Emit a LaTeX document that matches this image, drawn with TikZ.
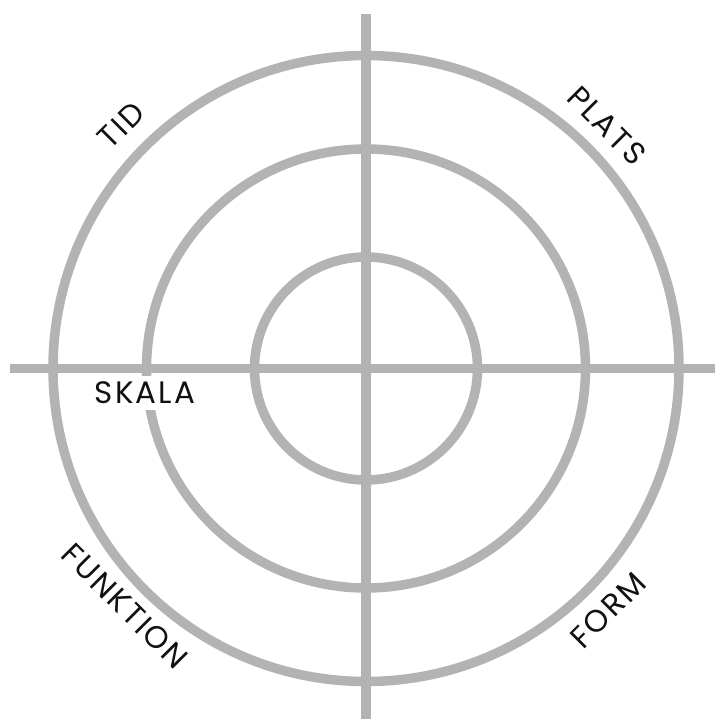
\documentclass[tikz,border=0pt]{standalone}
\usepackage{fontspec}
\setmainfont{Poppins}[LetterSpace=7]
\usepackage{tikz}
\definecolor{rline}{HTML}{B3B3B3}
\definecolor{rtext}{HTML}{111111}
\tikzset{
  ring/.style = {draw=rline, line width=9.5pt},
  ax/.style   = {draw=rline, line width=9.5pt},
  lb/.style   = {font=\fontsize{31}{34}\selectfont, text=rtext, inner sep=0pt},
}

\begin{document}
\begin{tikzpicture}[x=1pt,y=1pt]
\useasboundingbox (-366,-350.5) rectangle (349,368.5);

% ---- rings
\coordinate (o) at (0,0);
\draw[ring] (o) circle (313);
\draw[ring] (o) circle (219.5);
\draw[ring] (o) circle (111.5);

% ---- scale label sits on the middle ring
\node[lb, fill=white, inner sep=6pt] (skala) at (-221,-24.5) {SKALA};

% ---- axes
\coordinate (w) at (-356,0);
\coordinate (e) at (349,0);
\coordinate (n) at (0,354.5);
\coordinate (s) at (0,-350.5);
\draw[ax] (w) -- (e);
\draw[ax] (n) -- (s);

% ---- quadrant labels
\node[lb, rotate=45]  (tid)   at (-245,243.5)  {TID};
\node[lb, rotate=-45] (plats) at (241,242.5)   {PLATS};
\node[lb, rotate=-45] (funk)  at (-241,-237.5) {FUNKTION};
\node[lb, rotate=45]  (form)  at (242,-241.5)  {FORM};

\end{tikzpicture}
\end{document}
